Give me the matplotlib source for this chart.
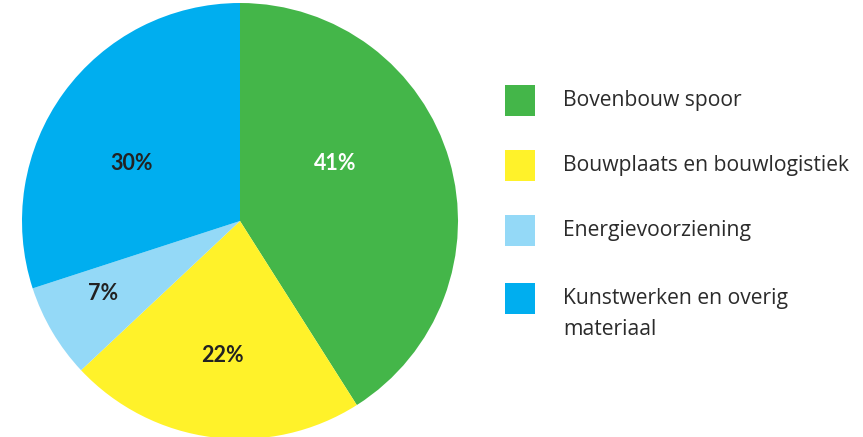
import matplotlib
matplotlib.use("Agg")
import matplotlib.pyplot as plt
from matplotlib.patches import Rectangle

categories = ["Bovenbouw spoor", "Bouwplaats en bouwlogistiek", "Energievoorziening",
              "Kunstwerken en overig\nmateriaal"]
values = [41, 22, 7, 30]
labels = ["41%", "22%", "7%", "30%"]
colors = ["#44b649", "#fff22a", "#94d9f7", "#00aeef"]
label_colors = ["white", "#222222", "#222222", "#222222"]

W, H = 863, 437
fig = plt.figure(figsize=(W / 100, H / 100), dpi=100)
fig.patch.set_facecolor("white")

# pie axes: center (240, 221 from top), radius ~218 px
R = 218
cx, cy = 240, H - 221
ax = fig.add_axes([(cx - R) / W, (cy - R) / H, 2 * R / W, 2 * R / H])
wedges, _ = ax.pie(values, colors=colors, startangle=90, counterclock=False,
                   radius=1, wedgeprops=dict(linewidth=0))
ax.set_xlim(-1, 1)
ax.set_ylim(-1, 1)
ax.set_aspect("equal")
ax.axis("off")

# label positions (fraction of radius), placed manually
label_pos = [(95 / R, 58 / R), (-18 / R, -135 / R), (-137 / R, -72 / R), (-108 / R, 58 / R)]
for lab, (x, y), c in zip(labels, label_pos, label_colors):
    ax.text(x, y, lab, ha="center", va="center", color=c, fontsize=15.5,
            fontweight="bold", family="Lato")

# legend
lax = fig.add_axes([0, 0, 1, 1])
lax.set_xlim(0, W)
lax.set_ylim(H, 0)
lax.axis("off")
sq_top = [85, 150, 215, 283]
for cat, col, t in zip(categories, colors, sq_top):
    lax.add_patch(Rectangle((505, t), 30, 31, facecolor=col, edgecolor="none"))
    lax.text(563, t + 5, cat, ha="left", va="top", fontsize=15.2, color="#2b2b2b",
             family="Open Sans", linespacing=1.62)

fig.savefig("out.png", dpi=100)
